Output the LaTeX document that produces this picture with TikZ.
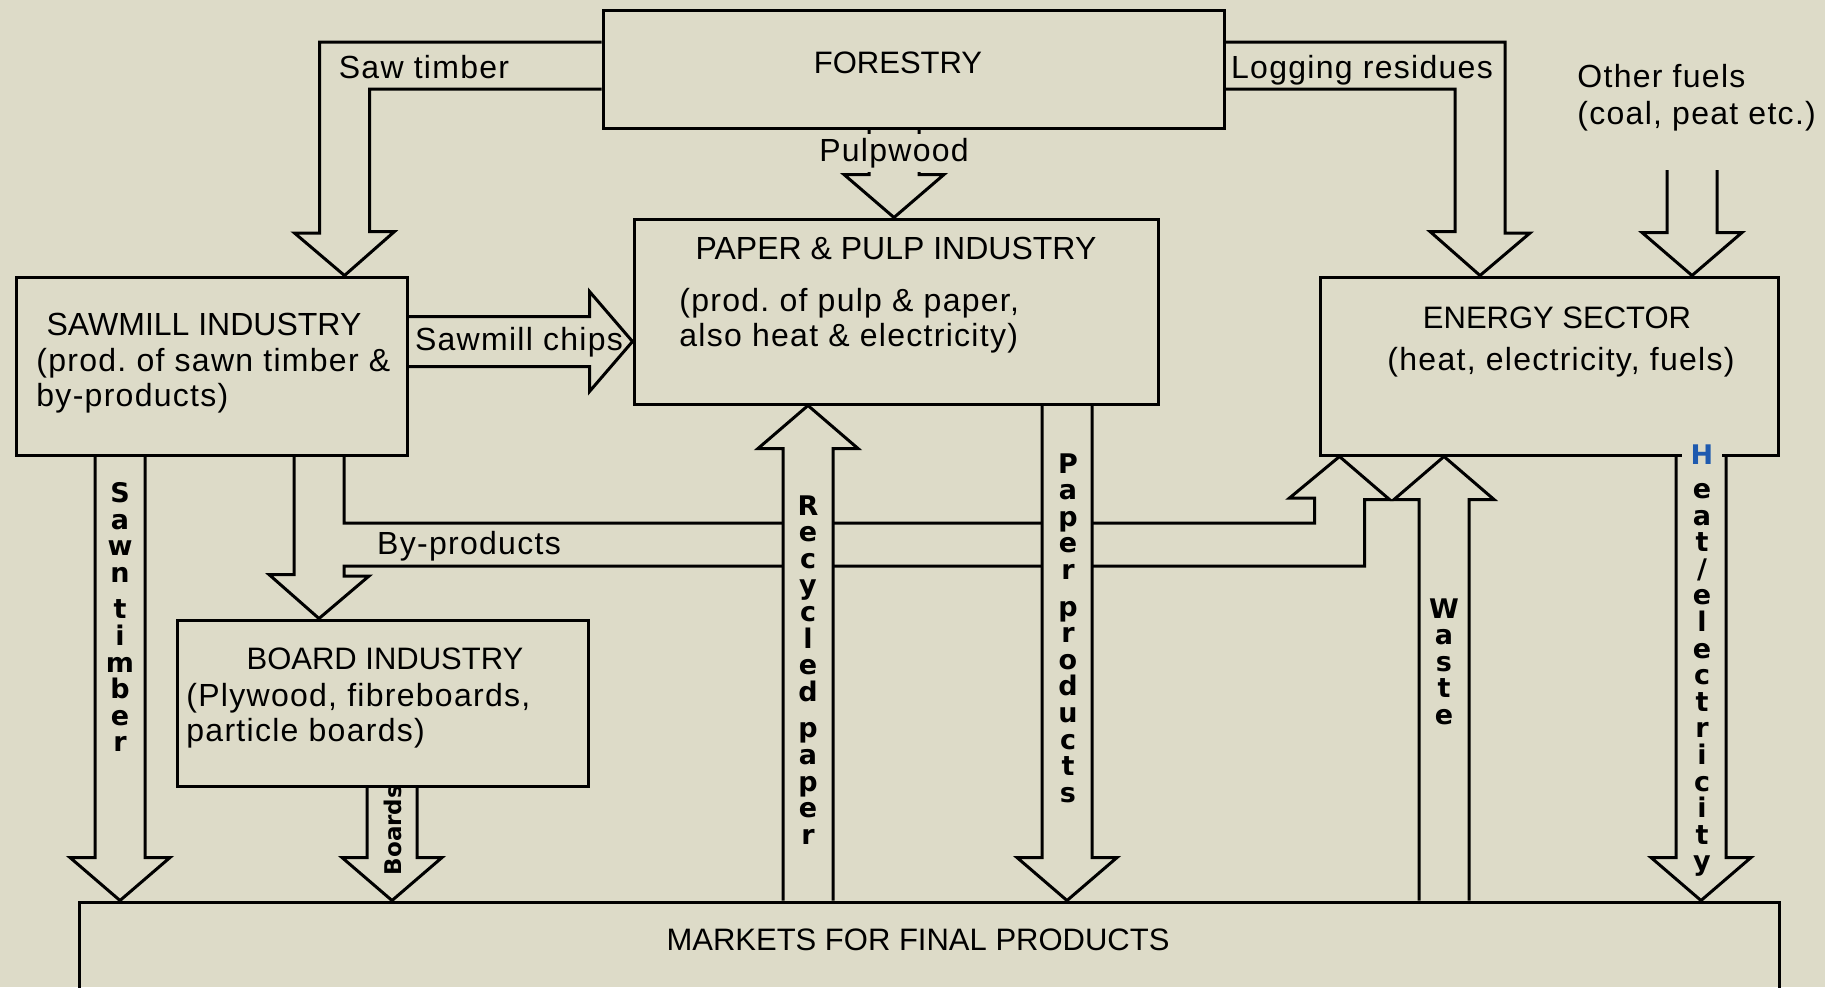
\documentclass[tikz,border=0pt]{standalone}
\usepackage{fontspec}
\setmainfont{Liberation Sans}
\setsansfont{Liberation Sans}
\newfontfamily\stackfont{DejaVu Sans}
\usepackage{tikz}
\usetikzlibrary{positioning,calc}
\definecolor{bg}{RGB}{221,219,200}
\definecolor{hblue}{RGB}{30,90,175}
\pgfdeclarelayer{flows}
\pgfsetlayers{flows,main}
\setlength{\lineskiplimit}{-20pt}

% fat outlined arrow, vertical: shaft centre x (px), from, to
\newcommand{\fatv}[3]{%
  \draw[flow] let \p1=(#2), \p2=(#3), \n1={ifthenelse(\y2<\y1,1,-1)} in
    ({#1*0.5pt-12.5pt},\y1) -- ({#1*0.5pt-12.5pt},{\y2+\n1*21.5pt})
    -- ({#1*0.5pt-25pt},{\y2+\n1*21.5pt}) -- ({#1*0.5pt},\y2)
    -- ({#1*0.5pt+25pt},{\y2+\n1*21.5pt}) -- ({#1*0.5pt+12.5pt},{\y2+\n1*21.5pt})
    -- ({#1*0.5pt+12.5pt},\y1);}
% fat outlined arrow, horizontal: shaft centre y (px), from, to
\newcommand{\fath}[3]{%
  \draw[flow] let \p1=(#2), \p2=(#3), \n1={ifthenelse(\x2>\x1,1,-1)} in
    (\x1,{-#1*0.5pt+12.5pt}) -- ({\x2-\n1*21.5pt},{-#1*0.5pt+12.5pt})
    -- ({\x2-\n1*21.5pt},{-#1*0.5pt+25pt}) -- (\x2,{-#1*0.5pt})
    -- ({\x2-\n1*21.5pt},{-#1*0.5pt-25pt}) -- ({\x2-\n1*21.5pt},{-#1*0.5pt-12.5pt})
    -- (\x1,{-#1*0.5pt-12.5pt});}

\begin{document}
\frenchspacing
\begin{tikzpicture}[font=\sffamily, x=0.5pt, y=-0.5pt]
    \tikzstyle{box}=[draw, line width=1.5pt, inner sep=0pt]
    \tikzstyle{flow}=[draw, line width=1.5pt, fill=bg, line join=miter]
    \tikzstyle{title}=[font=\sffamily\fontsize{15.5}{18}\selectfont, inner sep=0pt]
    \tikzstyle{body}=[font=\sffamily\fontsize{16}{17.5}\selectfont\addfontfeature{LetterSpace=4}, align=left, inner sep=0pt]
    \tikzstyle{flowlabel}=[font=\sffamily\fontsize{16}{18.5}\selectfont\addfontfeature{LetterSpace=4}, inner sep=0pt]
    \tikzstyle{stack}=[font=\stackfont\fontsize{13.5}{13.3}\selectfont\bfseries, align=center, inner sep=0pt, anchor=north]
    \useasboundingbox (0,0) rectangle (1825,987);

    \node[box, minimum width=310.5pt, minimum height=59pt] (forestry) at (913.5,69) {};
    \node[box, minimum width=262pt, minimum height=92.5pt] (paper) at (896,311.5) {};
    \node[box, minimum width=195.5pt, minimum height=89pt] (sawmill) at (211.5,366) {};
    \node[box, minimum width=229pt, minimum height=89pt] (energy) at (1549,366) {};
    \node[box, minimum width=205.5pt, minimum height=83pt] (board) at (382.5,703) {};
    \node[box, minimum width=850pt, minimum height=69pt] (markets) at (929,971) {};
    \coordinate (fuels) at (1692,170);

    \node[title] (forestrytext) at (898,63) {FORESTRY};
    \node[title, font=\sffamily\fontsize{16}{18}\selectfont] (papertitle) at (896,248) {PAPER \& PULP INDUSTRY};
    \node[body, anchor=west] (paperbody) at (679,321) {(prod. of pulp \& paper,\\also heat \& electricity)};
    \node[title, font=\sffamily\fontsize{16}{18}\selectfont] (sawmilltitle) at (204,324) {SAWMILL INDUSTRY};
    \node[body, anchor=west] (sawmillbody) at (36,381) {(prod. of sawn timber \&\\by-products)};
    \node[title] (energytitle) at (1557,318) {ENERGY SECTOR};
    \node[body] (energybody) at (1561,362) {(heat, electricity, fuels)};
    \node[title] (boardtitle) at (385,659) {BOARD INDUSTRY};
    \node[body, anchor=west] (boardbody) at (186,716) {(Plywood, fibreboards,\\particle boards)};
    \node[title] (marketstitle) at (918,940) {MARKETS FOR FINAL PRODUCTS};

    \node[flowlabel, anchor=base] (sawtimberlabel) at (424,78) {Saw timber};
    \node[flowlabel, anchor=base] (logginglabel) at (1362,78) {Logging residues};
    \node[flowlabel, fill=bg, inner sep=2pt] (pulpwoodlabel) at (894,153) {Pulpwood};
    \node[flowlabel] (chipslabel) at (519,342) {Sawmill chips};
    \node[flowlabel] (byproductslabel) at (469,546) {By-products};
    \node[flowlabel, align=left, anchor=west] (otherfuels) at (1577,98) {Other fuels\\(coal, peat etc.)};

    \node[stack] (sawnlabel) at (120,482) {S\\a\\w\\n\\[5pt]t\\i\\m\\b\\e\\r};
    \node[stack] (recycledlabel) at (808,495) {R\\e\\c\\y\\c\\l\\e\\d\\[5pt]p\\a\\p\\e\\r};
    \node[stack] (productslabel) at (1068,453) {P\\a\\p\\e\\r\\[5pt]p\\r\\o\\d\\u\\c\\t\\s};
    \node[stack] (wastelabel) at (1444,598) {W\\a\\s\\t\\e};
    \node[stack, anchor=center, fill=bg, inner xsep=4.5pt, text=hblue] (heatH) at (1702,455) {H};
    \node[stack] (heatlabel) at (1702,483) {e\\a\\t\\/\\e\\l\\e\\c\\t\\r\\i\\c\\i\\t\\y};
    \node[font=\stackfont\fontsize{11.5}{14}\selectfont\bfseries, rotate=90, inner sep=0pt] (boardslabel) at (393,830) {Boards};

    \begin{pgfonlayer}{flows}
    \fill[bg] (0,0) rectangle (1825,987);
    % sawmill output: board feed, by-products branch to energy
    \draw[flow] (sawmill.south-|344,0) -- (344,523) -- (1314.5,523) -- ++(0,-25) -- ++(-25,0)
        -- (energy.south-|1339.5,0) -- ++(50,43) -- ++(-25,0) |- (344,566) -- ++(0,10)
        -- ++(25,0) -- (board.north-|319,0) -- ++(-50,-44) -- ++(25,0) -- (sawmill.south-|294,0);
    \fatv{120}{sawmill.south}{markets.north}
    \fatv{392}{board.south}{markets.north}
    \fatv{808}{markets.north}{paper.south}
    \fatv{1067}{paper.south}{markets.north}
    \fatv{1444}{markets.north}{energy.south}
    \fatv{1701}{energy.south}{markets.north}
    \fatv{894}{forestry.south}{paper.north}
    \fatv{1692}{fuels}{energy.north}
    \fath{341.5}{sawmill.east}{paper.west}
    % elbows out of forestry
    \draw[flow] ([yshift=13.5pt]forestry.west) -| (319.5,233) -- ++(-25,0) -- (sawmill.north-|344.5,0)
        -- ++(50,-44) -- ++(-25,0) |- ([yshift=-10pt]forestry.west);
    \draw[flow] ([yshift=13.5pt]forestry.east) -| (1505,233) -- ++(25,0) -- (energy.north-|1480,0)
        -- ++(-50,-44) -- ++(25,0) |- ([yshift=-10pt]forestry.east);
    \end{pgfonlayer}
\end{tikzpicture}
\end{document}
